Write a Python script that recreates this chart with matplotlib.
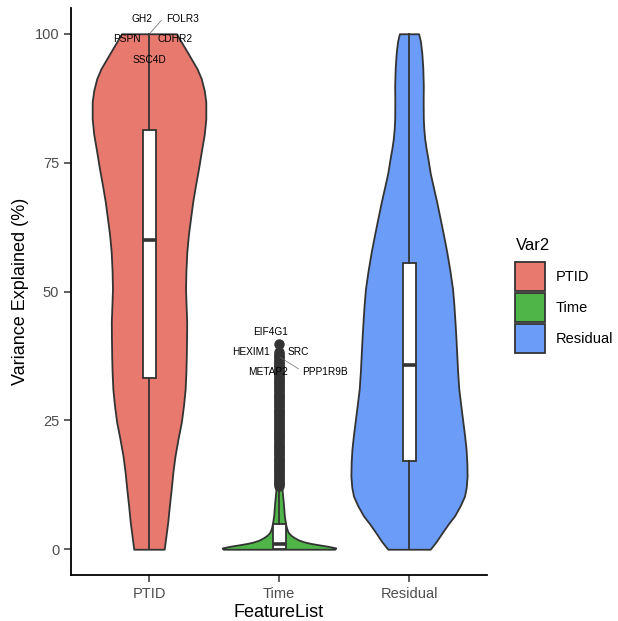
import matplotlib
matplotlib.use('Agg')
import matplotlib.pyplot as plt
from matplotlib.patches import Patch
import numpy as np

plt.rcParams['font.family'] = ['Liberation Sans', 'DejaVu Sans']

# groups and fill colours
categories = ['PTID', 'Time', 'Residual']
fills = ['#E8796E', '#4FB548', '#6B9CF7']

# violin outlines: variance level (%) and half-width (x units)
ptid_y = [0, 2.5, 5.2, 8.5, 11.7, 15.0, 18.1, 21.5, 24.7, 28.0, 31.1,
          34.5, 37.5, 41.0, 44.1, 47.5, 50.5, 54.0, 57.7, 61.0, 64.1,
          67.5, 70.5, 74.0, 77.1, 80.5, 83.5, 86.8, 89.0, 91.3, 93.2,
          95.1, 97.5, 100]
ptid_hw = [0.117, 0.130, 0.144, 0.157, 0.171, 0.184, 0.200, 0.224, 0.249,
           0.266, 0.278, 0.284, 0.287, 0.289, 0.290, 0.285, 0.281, 0.284,
           0.291, 0.303, 0.319, 0.337, 0.357, 0.382, 0.402, 0.425, 0.437,
           0.437, 0.425, 0.402, 0.370, 0.326, 0.270, 0.211]

time_y = [0, 0.26, 0.6, 0.9, 1.15, 1.42, 1.8, 2.26, 2.7, 3.24, 3.8, 4.5,
          5.5, 6.5, 9.1, 11.7, 16.0, 22.0, 30.0, 36.0, 40.0]
time_hw = [0.430, 0.437, 0.370, 0.296, 0.240, 0.194, 0.150, 0.117, 0.092,
           0.072, 0.062, 0.054, 0.047, 0.041, 0.033, 0.023, 0.018, 0.015,
           0.012, 0.010, 0.006]

resid_y = [0, 1.5, 3.2, 5.0, 6.5, 8.5, 10.3, 12.0, 14.2, 16.8, 19.4, 22.0,
           24.6, 28.0, 31.1, 34.5, 37.5, 41.0, 44.0, 47.5, 50.5, 54.0,
           57.6, 61.0, 64.1, 67.5, 70.5, 73.0, 75.7, 77.7, 79.6, 81.5,
           83.5, 87.0, 90.0, 93.5, 96.4, 98.5, 100]
resid_hw = [0.163, 0.210, 0.255, 0.305, 0.351, 0.395, 0.427, 0.440, 0.447,
            0.445, 0.439, 0.428, 0.415, 0.398, 0.383, 0.374, 0.368, 0.361,
            0.354, 0.345, 0.335, 0.315, 0.291, 0.265, 0.240, 0.212, 0.185,
            0.163, 0.146, 0.132, 0.121, 0.114, 0.110, 0.109, 0.110, 0.106,
            0.098, 0.088, 0.074]

# box summaries per group
q1 = [33.2, 0.1, 17.1]
med = [59.9, 0.95, 35.7]
q3 = [81.4, 4.85, 55.5]
whislo = [0, 0, 0]
whishi = [100, 12.0, 100]

# outlying features in the Time group
time_out = [12.3, 12.6, 12.9, 13.1, 13.4, 13.7, 14.0, 14.2, 14.5, 14.8,
            15.1, 15.4, 15.7, 15.9, 16.2, 16.5, 16.8, 17.1, 17.4, 17.6,
            17.9, 18.2, 18.5, 18.8, 19.1, 19.4, 19.6, 19.9, 20.2, 20.5,
            20.8, 21.1, 21.4, 21.7, 21.9, 22.2, 22.5, 22.8, 23.1, 23.4,
            23.7, 24.0, 24.2, 24.5, 24.8, 25.1, 25.4, 25.7, 26.0, 26.3,
            26.6, 26.8, 27.1, 27.4, 27.7, 28.0, 28.3, 28.6, 28.9, 29.2,
            29.5, 29.7, 30.0, 30.3, 30.6, 30.9, 31.2, 31.5, 31.8, 32.1,
            32.4, 32.7, 33.0, 33.3, 33.6, 33.9, 34.2, 34.5, 34.8, 35.1,
            35.4, 35.7, 36.0, 36.3, 36.6, 36.9, 37.2, 37.5, 37.8, 38.2,
            39.9]

# gene labels: text, x, y
gene_txt = ['GH2', 'FOLR3', 'PSPN', 'CDHR2', 'SSC4D',
            'EIF4G1', 'HEXIM1', 'SRC', 'METAP2', 'PPP1R9B']
gene_x = [0.948, 1.262, 0.833, 1.203, 1.004,
          1.935, 1.783, 2.148, 1.918, 2.352]
gene_y = [102.9, 102.9, 98.9, 98.9, 95.0,
          42.1, 38.2, 38.2, 34.4, 34.3]

edge = '#333333'

fig = plt.figure(figsize=(6.18, 6.21), dpi=100)
ax = fig.add_axes([71 / 618, 1 - 575 / 621, 416 / 618, 567 / 621])

profiles = [(ptid_y, ptid_hw), (time_y, time_hw), (resid_y, resid_hw)]
for i, (yy, hw) in enumerate(profiles):
    pos = i + 1
    yy = np.array(yy)
    hw = np.array(hw)
    ax.fill_betweenx(yy, pos - hw, pos + hw, facecolor=fills[i],
                     edgecolor=edge, linewidth=1.3, zorder=1)

stats = []
for i, c in enumerate(categories):
    stats.append(dict(label=c, q1=q1[i], med=med[i], q3=q3[i],
                      whislo=whislo[i], whishi=whishi[i],
                      fliers=time_out if c == 'Time' else []))

ax.bxp(stats, positions=[1, 2, 3], widths=0.1, patch_artist=True,
       showcaps=False, manage_ticks=False,
       boxprops=dict(facecolor='white', edgecolor=edge, linewidth=1.3),
       medianprops=dict(color=edge, linewidth=2.6),
       whiskerprops=dict(color=edge, linewidth=1.3),
       flierprops=dict(marker='o', markerfacecolor=edge,
                       markeredgecolor=edge, markersize=6.5),
       zorder=2)

for t, x, y in zip(gene_txt, gene_x, gene_y):
    ax.text(x, y, t, fontsize=7.3, ha='center', va='center', zorder=4)

# repel segments
ax.plot([1.004, 1.095], [100, 102.6], color='#666666', lw=0.5, zorder=3)
ax.plot([2.01, 2.15], [37.2, 35.0], color='#666666', lw=0.5, zorder=3)

ax.set_xlim(0.4, 3.6)
ax.set_ylim(-5, 105)
ax.set_xticks([1, 2, 3])
ax.set_xticklabels(categories)
ax.set_yticks([0, 25, 50, 75, 100])
ax.tick_params(colors='#333333', labelcolor='#4D4D4D', labelsize=10.5,
               length=5, width=1.1)
for s in ['top', 'right']:
    ax.spines[s].set_visible(False)
for s in ['left', 'bottom']:
    ax.spines[s].set_linewidth(1.3)
    ax.spines[s].set_color('black')

ax.set_xlabel('FeatureList', fontsize=13, labelpad=2)
ax.set_ylabel('Variance Explained (%)', fontsize=13, labelpad=4)

# legend: title as its own text, keys stacked below it
fig.text(516 / 618, 1 - 245 / 621, 'Var2', fontsize=12, ha='left',
         va='center')
handles = [Patch(facecolor=fills[i], edgecolor=edge, linewidth=1.3, label=c)
           for i, c in enumerate(categories)]
leg = fig.legend(handles=handles, loc='upper left',
                 bbox_to_anchor=(515 / 618, 1 - 262 / 621), frameon=False,
                 fontsize=10.5, handlelength=2.05,
                 handleheight=2.7, handletextpad=0.75, labelspacing=0.12,
                 borderpad=0, borderaxespad=0)

fig.savefig('out.png', dpi=100)
